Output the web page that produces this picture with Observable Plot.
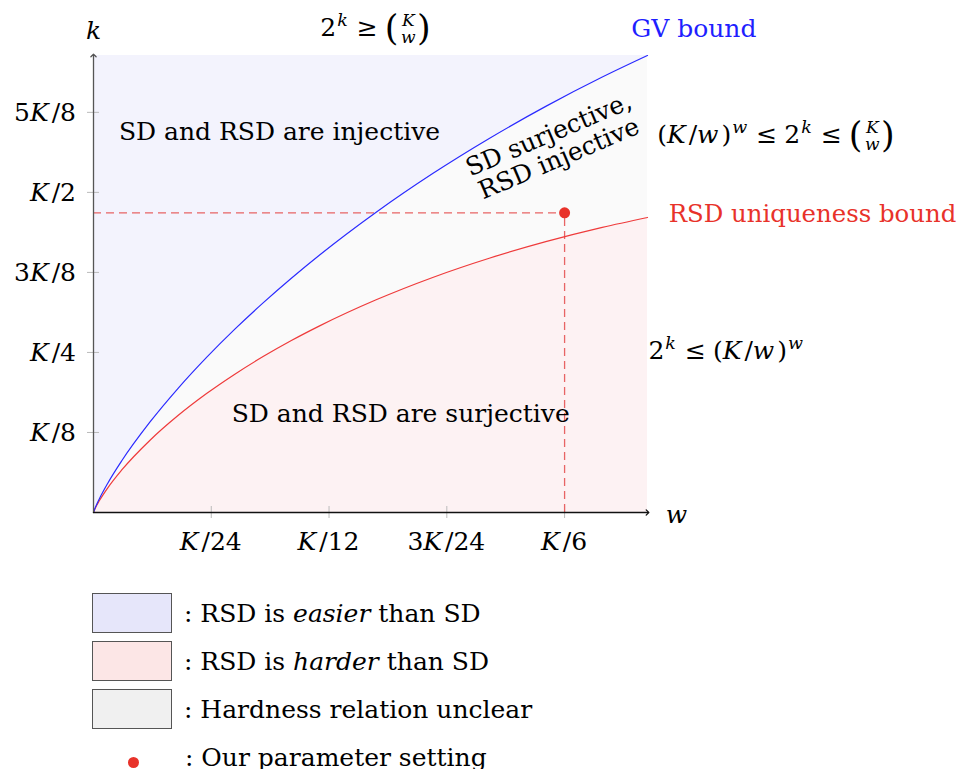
<!DOCTYPE html>
<html><head><meta charset="utf-8">
<script src="https://cdn.jsdelivr.net/npm/d3@7"></script>
<script src="https://cdn.jsdelivr.net/npm/@observablehq/plot@0.6"></script>
<style>
body{margin:0;background:#fff;font-family:"DejaVu Serif",serif;}
#wrap{position:relative;width:957px;height:769px;overflow:hidden}
.row{position:absolute;left:92px;height:40px;display:flex;align-items:center;font-size:25px;color:#000;white-space:pre}
.box{width:78px;height:38px;border:1.5px solid #555;margin-right:12px;box-sizing:content-box}
.dot{position:absolute;width:11px;height:11px;border-radius:50%;background:#e8322a}
</style></head><body><div id="wrap"></div>
<script>
// w in units of K, k in units of K
const wValues = [0, 0.0005, 0.001, 0.002, 0.005, 0.01, 0.02, 0.03, 0.04, 0.05, 0.06, 0.07, 0.08, 0.10, 0.12, 0.14, 0.16, 0.18, 0.196];
const gvBound = [0, 0.0062, 0.0114, 0.0208, 0.0454, 0.0808, 0.1414, 0.1944, 0.2423, 0.2864, 0.3274, 0.3659, 0.4022, 0.4690, 0.5294, 0.5842, 0.6343, 0.6801, 0.7138];
const rsdBound = [0, 0.0055, 0.0100, 0.0179, 0.0382, 0.0664, 0.1129, 0.1518, 0.1858, 0.2161, 0.2435, 0.2686, 0.2915, 0.3322, 0.3671, 0.3971, 0.4230, 0.4453, 0.4608];
const xTicks = [1/24, 1/12, 3/24, 1/6];
const xTickLabels = ["K/24", "K/12", "3K/24", "K/6"];
const yTicks = [1/8, 1/4, 3/8, 1/2, 5/8];
const yTickLabels = ["K/8", "K/4", "3K/8", "K/2", "5K/8"];
const param = {w: 1/6, k: 0.468};
const xMax = 0.196, yMax = 0.7138;

const regionLabels = [
  {text: "SD and RSD are injective", w: 0.0658, k: 0.5945, rotate: 0},
  {text: "SD and RSD are surjective", w: 0.1087, k: 0.154, rotate: 0},
  {text: "SD surjective,\nRSD injective", w: 0.1628, k: 0.572, rotate: -23}
];
const gvLabel = {text: "GV bound", w: 0.2124, k: 0.7555};
const rsdLabel = {text: "RSD uniqueness bound", w: 0.2035, k: 0.4664};
const legendItems = [
  {pre: ": RSD is ", em: "easier", post: " than SD", fill: "#e6e6fa"},
  {pre: ": RSD is ", em: "harder", post: " than SD", fill: "#fce6e6"},
  {pre: ": Hardness relation unclear", em: "", post: "", fill: "#f0f0f0"}
];
const legendDot = ": Our parameter setting";

const rows = wValues.map((w, i) => ({w, gv: gvBound[i], rsd: rsdBound[i]}));
const FONT = "DejaVu Serif";
const FS = 25;

const plot = Plot.plot({
  width: 957, height: 570,
  marginLeft: 93, marginRight: 310, marginTop: 55, marginBottom: 58,
  x: {domain: [0, xMax], axis: null},
  y: {domain: [0, yMax], axis: null},
  style: {background: "transparent", fontFamily: "'DejaVu Serif', serif"},
  marks: [
    Plot.areaY(rows, {x: "w", y1: "gv", y2: yMax, fill: "#f3f3fd", curve: "monotone-x"}),
    Plot.areaY(rows, {x: "w", y1: "rsd", y2: "gv", fill: "#fafafa", curve: "monotone-x"}),
    Plot.areaY(rows, {x: "w", y1: 0, y2: "rsd", fill: "#fdf2f3", curve: "monotone-x"}),
    Plot.ruleX(xTicks, {x: d => d, y1: 0, y2: 0, insetTop: -6, insetBottom: -6, stroke: "#bbb"}),
    Plot.ruleY(yTicks, {y: d => d, x1: 0, x2: 0, insetLeft: -6, insetRight: -6, stroke: "#bbb"}),
    Plot.ruleY([param], {y: "k", x1: 0, x2: "w", stroke: "#e86464", strokeDasharray: "8,5", strokeWidth: 1.3}),
    Plot.ruleX([param], {x: "w", y1: 0, y2: "k", stroke: "#e86464", strokeDasharray: "8,5", strokeWidth: 1.3}),
    Plot.line(rows, {x: "w", y: "rsd", stroke: "#ee3b3b", strokeWidth: 1.2, curve: "monotone-x"}),
    Plot.line(rows, {x: "w", y: "gv", stroke: "#2a2aff", strokeWidth: 1.2, curve: "monotone-x"}),
    Plot.line([{w: 0, k: 0}, {w: 0, k: yMax}], {x: "w", y: "k", stroke: "#555", strokeWidth: 1.3, markerEnd: "arrow"}),
    Plot.line([{w: 0, k: 0}, {w: xMax, k: 0}], {x: "w", y: "k", stroke: "#111", strokeWidth: 1.3, markerEnd: "arrow"}),
    Plot.dot([param], {x: "w", y: "k", r: 5.5, fill: "#e8322a"}),
    Plot.text(regionLabels, {x: "w", y: "k", text: "text", rotate: "rotate", fontSize: FS, fill: "#000", lineHeight: 1.05}),
    Plot.text([gvLabel], {x: "w", y: "k", text: "text", fill: "#1f1fff", textAnchor: "middle", fontSize: FS}),
    Plot.text([rsdLabel], {x: "w", y: "k", text: "text", fill: "#e8322a", textAnchor: "start", fontSize: 24.4}),
    Plot.text([{w: 0, k: 0.7523}], {x: "w", y: "k", text: () => "k", fontStyle: "italic", fontSize: FS, fill: "#000"}),
    Plot.text([{w: 0.2025, k: 0}], {x: "w", y: "k", text: () => "w", fontStyle: "italic", fontSize: FS, fill: "#000", textAnchor: "start", dy: 2})
  ]
});
const wrap = document.getElementById("wrap");
wrap.appendChild(plot);

const sx = plot.scale("x"), sy = plot.scale("y");
const svg = d3.select(plot);

function measure(g, str, fs, italic) {
  const t = g.append("text").attr("font-size", fs).attr("font-style", italic ? "italic" : null).text(str);
  const w = t.node().getComputedTextLength();
  t.remove();
  return w;
}

function mathText(px, py, tokens, {fill = "#000", anchor = "start", size = FS} = {}) {
  const g = svg.append("g").attr("font-family", FONT).attr("fill", fill).attr("text-anchor", "start");
  let cx = 0, seg = null, shift = 0, pendingGap = 0;
  const flush = () => {
    if (seg) {
      const bb = seg.node().getBBox();
      cx = bb.x + bb.width;
      seg = null; shift = 0;
    }
  };
  for (const tok of tokens) {
    if (tok.gap) { pendingGap += tok.gap; continue; }
    if (tok.binom) {
      flush();
      cx += pendingGap; pendingGap = 0;
      const ps = size * 1.4, s = size * 0.68;
      const wp = measure(g, "(", ps, false);
      const wa = measure(g, tok.binom[0], s, true), wb = measure(g, tok.binom[1], s, true);
      const wr = measure(g, ")", ps, false);
      const w = Math.max(wa, wb) + 3;
      const x0 = cx + wp + 1;
      const t = g.append("text");
      t.append("tspan").attr("x", cx).attr("y", 0.16 * size).attr("font-size", ps).text("(");
      t.append("tspan").attr("x", x0 + (w - wa) / 2).attr("y", -0.4 * size).attr("font-size", s).attr("font-style", "italic").text(tok.binom[0]);
      t.append("tspan").attr("x", x0 + (w - wb) / 2).attr("y", 0.26 * size).attr("font-size", s).attr("font-style", "italic").text(tok.binom[1]);
      t.append("tspan").attr("x", x0 + w).attr("y", 0.16 * size).attr("font-size", ps).text(")");
      cx = x0 + w + wr;
      continue;
    }
    if (!seg) {
      seg = g.append("text").attr("x", cx + pendingGap).attr("y", 0).attr("font-size", size);
      pendingGap = 0;
    }
    const target = tok.sup ? -0.42 * size : 0;
    const fs = tok.sup ? size * 0.7 : size;
    seg.append("tspan")
      .attr("dx", pendingGap + (tok.sup ? 1 : 0))
      .attr("dy", target - shift)
      .attr("font-size", fs)
      .attr("font-style", tok.it ? "italic" : null)
      .text(tok.t);
    shift = target;
    pendingGap = tok.it ? 0.12 * fs : 0;
  }
  flush();
  const off = anchor === "middle" ? -cx / 2 : anchor === "end" ? -cx : 0;
  g.attr("transform", `translate(${px + off},${py})`);
}
function labelTokens(label) {
  const parts = label.split("K");
  const out = [];
  if (parts[0]) out.push({t: parts[0]});
  out.push({t: "K", it: true});
  if (parts[1]) out.push({t: parts[1]});
  return out;
}

// tick labels
yTicks.forEach((v, i) => mathText(76, sy.apply(v) + 9, labelTokens(yTickLabels[i]), {anchor: "end"}));
xTicks.forEach((v, i) => mathText(sx.apply(v), sy.apply(0) + 38, labelTokens(xTickLabels[i]), {anchor: "middle"}));

// condition labels
const twoK = [{t: "2"}, {t: "k", it: true, sup: true}];
const kw = [{t: "("}, {t: "K", it: true}, {t: "/"}, {t: "w", it: true}, {t: ")"}, {t: "w", it: true, sup: true}];
const geq = [{gap: 7}, {t: "≥"}, {gap: 7}];
const leq = [{gap: 7}, {t: "≤"}, {gap: 7}];
const binom = [{binom: ["K", "w"]}];
const conditionLabels = [
  {w: 0.0804, k: 0.743, tokens: [...twoK, ...geq, ...binom]},
  {w: 0.1996, k: 0.5758, tokens: [...kw, ...leq, ...twoK, ...leq, ...binom]},
  {w: 0.1965, k: 0.2383, tokens: [...twoK, ...leq, ...kw]}
];
conditionLabels.forEach(d => mathText(sx.apply(d.w), sy.apply(d.k), d.tokens));

// legend
legendItems.forEach((d, i) => {
  const row = document.createElement("div");
  row.className = "row";
  row.style.top = (593 + 48 * i) + "px";
  const box = document.createElement("div");
  box.className = "box";
  box.style.background = d.fill;
  row.appendChild(box);
  const span = document.createElement("span");
  span.append(d.pre);
  if (d.em) { const em = document.createElement("i"); em.textContent = d.em; span.append(em); }
  span.append(d.post);
  row.appendChild(span);
  wrap.appendChild(row);
});
const row4 = document.createElement("div");
row4.className = "row";
row4.style.top = "737px";
row4.style.left = "185px";
row4.textContent = legendDot;
wrap.appendChild(row4);
const dot = document.createElement("div");
dot.className = "dot";
dot.style.left = "128px";
dot.style.top = "757px";
wrap.appendChild(dot);
</script></body></html>
